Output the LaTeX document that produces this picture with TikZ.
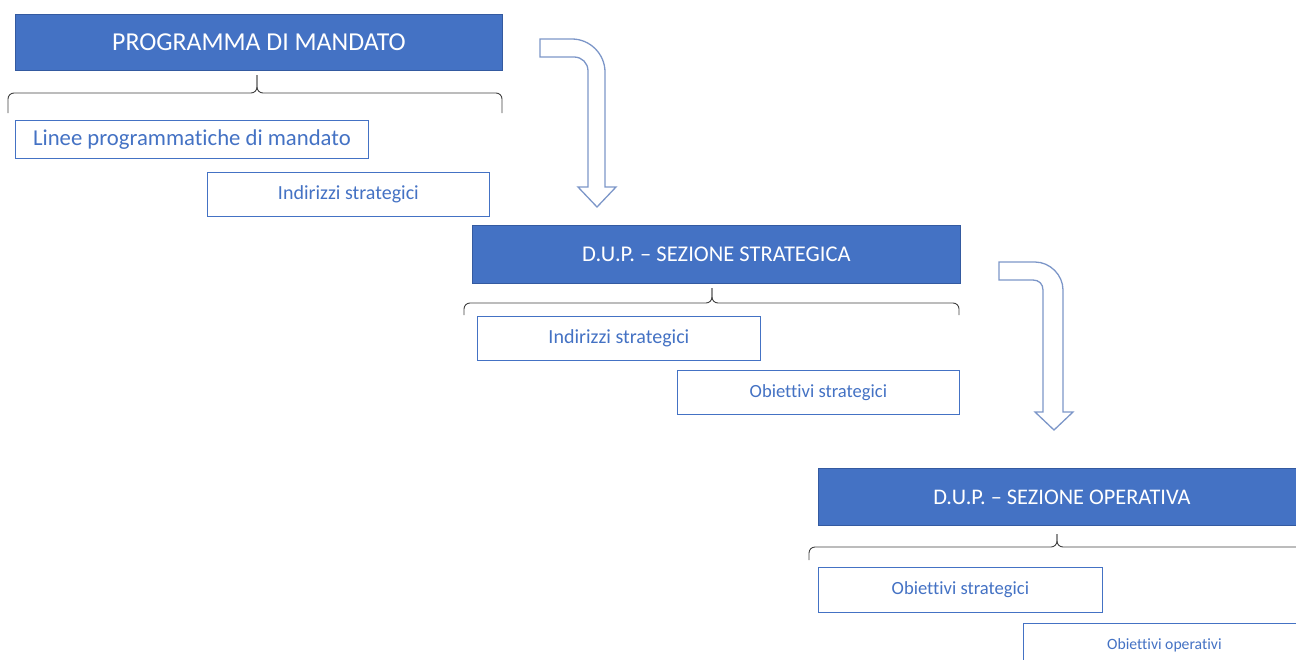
\documentclass[tikz,border=0pt]{standalone}
\usepackage{fontspec}
\setmainfont[Ligatures=NoCommon]{Carlito}
\definecolor{hdrblue}{RGB}{68,114,196}
\definecolor{hdredge}{RGB}{52,90,160}
\definecolor{arrowline}{RGB}{124,150,200}
\definecolor{bracegray}{RGB}{64,64,64}
\tikzset{
  header/.style={fill=hdrblue,draw=hdredge,line width=0.8pt,text=white,anchor=north west,inner sep=0pt},
  item/.style={fill=white,draw=hdrblue,line width=0.8pt,text=hdrblue,anchor=north west,inner sep=0pt},
  bentarrow/.style={draw=arrowline,line width=1.3pt,line join=miter},
  bracket/.style={draw=bracegray,line width=0.9pt,rounded corners=6pt}
}
\newcommand{\groupbrace}[6]{%
  \draw[bracket] (#1,#4+#5) -- (#1,#4) -- (#3,#4) -- (#3,#4-#6);
  \draw[bracket] (#2,#4+#5) -- (#2,#4) -- (#3,#4) -- (#3,#4-#6);
}
\begin{document}
\begin{tikzpicture}[x=1pt,y=-1pt]
      \useasboundingbox (0,0) rectangle (1296,659);
      \clip (0,0) rectangle (1296,659);
      \node[header,minimum width=487pt,minimum height=56pt,font=\fontsize{25.8}{30}\selectfont] (mandato) at (15,14) {PROGRAMMA DI MANDATO};
      \node[item,minimum width=353pt,minimum height=38pt,font=\fontsize{22.7}{27}\selectfont] (linee) at (15,120) {Linee programmatiche di mandato};
      \node[item,minimum width=282pt,minimum height=44pt,font=\fontsize{20}{24}\selectfont] (indir1) at (207,172) {Indirizzi strategici};
      \node[header,minimum width=488pt,minimum height=58pt,font=\fontsize{22.5}{27}\selectfont] (strat) at (472,225) {D.U.P. – SEZIONE STRATEGICA};
      \node[item,minimum width=283pt,minimum height=44pt,font=\fontsize{20}{24}\selectfont] (indir2) at (477,316) {Indirizzi strategici};
      \node[item,minimum width=282pt,minimum height=44pt,font=\fontsize{18.6}{22}\selectfont] (obstr2) at (677,370) {Obiettivi strategici};
      \node[header,minimum width=487pt,minimum height=57pt,font=\fontsize{22.3}{27}\selectfont] (oper) at (818,468) {D.U.P. – SEZIONE OPERATIVA};
      \node[item,minimum width=284pt,minimum height=45pt,font=\fontsize{18.6}{22}\selectfont] (obstr3) at (818,567) {Obiettivi strategici};
      \node[item,minimum width=282pt,minimum height=44pt,font=\fontsize{15.7}{19}\selectfont] (obop) at (1023,623) {Obiettivi operativi};
      \groupbrace{8}{502}{257}{93}{20}{18}
      \groupbrace{464}{959}{712}{303}{12}{15}
      \groupbrace{809}{1305}{1057}{547}{13}{13}
      \draw[bentarrow] (540,39) -- (572,39) .. controls (590,39) and (605,54) .. (605,72)
        -- (605,187) -- (616,187) -- (597,207) -- (578,187) -- (588,187)
        -- (588,71) .. controls (588,63) and (582,57) .. (574,57) -- (540,57) -- cycle;
      \draw[bentarrow] (999,262) -- (1035,262) .. controls (1050,262) and (1063,275) .. (1063,290)
        -- (1063,412) -- (1073,412) -- (1054,430) -- (1035,412) -- (1043,412)
        -- (1043,290) .. controls (1043,284) and (1039,280) .. (1033,280) -- (999,280) -- cycle;
    \end{tikzpicture}
\end{document}
